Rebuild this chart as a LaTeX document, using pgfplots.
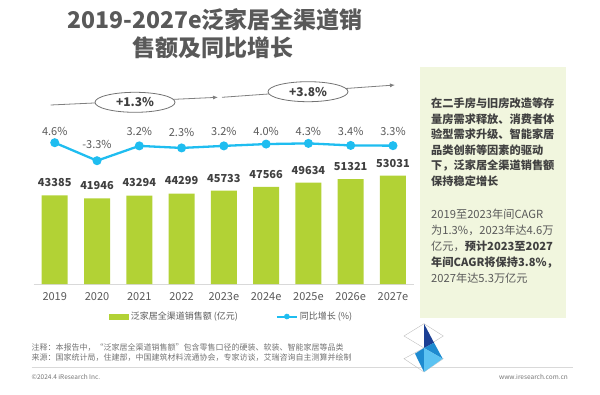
\documentclass[border=0pt]{standalone}
\usepackage{fontspec}
\setmainfont{Noto Sans CJK SC}
\usepackage{pgfplots}
\pgfplotsset{compat=1.18}
\usetikzlibrary{arrows.meta,shapes.geometric}
\definecolor{bargreen}{HTML}{B2D235}
\definecolor{linecyan}{HTML}{1FBDF0}
\definecolor{txt}{HTML}{595959}
\definecolor{dtxt}{HTML}{404040}
\definecolor{boxfill}{HTML}{F1F6DE}
\definecolor{navy}{HTML}{1B3F94}
\definecolor{midblue}{HTML}{1E8BD0}
\definecolor{lightblue}{HTML}{5CC3F2}
\begin{document}
\begin{tikzpicture}
\path[use as bounding box] (0pt,0pt) rectangle (600pt,394pt);
% side box
\fill[boxfill] (420pt,76pt) rectangle (566pt,327pt);
% axis with bars
\begin{axis}[at={(33.6pt,110pt)}, anchor=south west, width=380.5pt, height=214pt, scale only axis,
  xmin=-0.5, xmax=8.5, ymin=0, ymax=104800,
  axis x line*=bottom, axis y line=none,
  x axis line style={draw=black!15, line width=0.8pt},
  xtick={0,...,8}, xticklabels={2019,2020,2021,2022,2023e,2024e,2025e,2026e,2027e},
  major tick length=0pt,
  xticklabel style={anchor=center, yshift=-13pt, font=\fontsize{11}{13}\selectfont, text=txt},
  ytick=\empty,
  /pgf/number format/assume math mode=true,
  /pgf/number format/1000 sep={},
  legend style={draw=none, fill=none, font=\fontsize{9}{11}\selectfont, text=txt,
    at={(0.521,-0.152)}, anchor=center, legend columns=2,
    /tikz/every even column/.append style={column sep=36pt}},
  legend cell align=left,
  clip=false]
\addplot[ybar, bar width=26pt, fill=bargreen, draw=none, forget plot,
  nodes near coords,
  every node near coord/.append style={anchor=center, yshift=12.6pt, font=\bfseries\fontsize{11}{13}\selectfont, text=dtxt}]
  coordinates {(0,43385) (1,41946) (2,43294) (3,44299) (4,45733) (5,47566) (6,49634) (7,51321) (8,53031)};
\addlegendimage{legend image code/.code={\fill[bargreen] (0pt,-2.2pt) rectangle (19pt,2.2pt);}}
\addlegendentry{泛家居全渠道销售额 (亿元)}
\addlegendimage{legend image code/.code={\draw[linecyan, line width=2pt] (0pt,0pt) -- (20pt,0pt); \fill[linecyan] (10pt,0pt) circle (2.6pt);}}
\addlegendentry{同比增长 (\%)}
\end{axis}
% axis with growth line
\begin{axis}[at={(33.6pt,110pt)}, anchor=south west, width=380.5pt, height=214pt, scale only axis,
  xmin=-0.5, xmax=8.5, ymin=-57.4, ymax=36.5, hide axis, clip=false,
  /pgf/number format/assume math mode=true]
\addplot[linecyan, line width=2.3pt, mark=*, mark size=3.3pt, mark options={fill=linecyan, draw=linecyan}]
  coordinates {(0,4.6) (1,-3.3) (2,3.2) (3,2.3) (4,3.2) (5,4.0) (6,4.3) (7,3.4) (8,3.3)};
\addplot[draw=none, point meta=explicit,
  nodes near coords={\pgfmathprintnumber[fixed, fixed zerofill, precision=1]{\pgfplotspointmeta}\%},
  every node near coord/.append style={anchor=center, font=\fontsize{11}{13}\selectfont, text=txt}]
  table[meta=m] {
x y m
0 9.7 4.6
1 4.0 -3.3
2 9.7 3.2
3 9.3 2.3
4 9.7 3.2
5 9.7 4.0
6 9.7 4.3
7 9.7 3.4
8 9.7 3.3
};
\end{axis}
\begin{scope}[x=1pt,y=1pt]
% CAGR arrows
\draw[black!50, line width=0.8pt, -{Latex[length=5pt,width=4pt]}] (50.7,289) -- (218,296.7);
\draw[black!50, line width=0.8pt, -{Latex[length=5pt,width=4pt]}] (222,296.7) -- (395,309);
\node[ellipse, draw=black!55, fill=white, line width=0.8pt, minimum width=80pt, minimum height=20pt, inner sep=0pt,
  font=\bfseries\fontsize{12}{14}\selectfont, text=dtxt] at (135,291.7) {+1.3\%};
\node[ellipse, draw=black!55, fill=white, line width=0.8pt, minimum width=80pt, minimum height=20pt, inner sep=0pt,
  font=\bfseries\fontsize{12}{14}\selectfont, text=dtxt] at (308,302.3) {+3.8\%};
% title
\node[font=\bfseries\fontsize{23}{28}\selectfont, text=txt, anchor=center] at (215,374) {2019-2027e泛家居全渠道销};
\node[font=\bfseries\fontsize{23}{28}\selectfont, text=txt, anchor=center] at (213,346) {售额及同比增长};
% box text
\begin{scope}[every node/.style={anchor=base west, inner sep=0pt, font=\fontsize{11.2}{15}\selectfont}]
\node[text=dtxt, font=\bfseries\fontsize{11.2}{15}\selectfont] at (431,286.4) {在二手房与旧房改造等存};
\node[text=dtxt, font=\bfseries\fontsize{11.2}{15}\selectfont] at (431,270.9) {量房需求释放、消费者体};
\node[text=dtxt, font=\bfseries\fontsize{11.2}{15}\selectfont] at (431,255.4) {验型需求升级、智能家居};
\node[text=dtxt, font=\bfseries\fontsize{11.2}{15}\selectfont] at (431,239.9) {品类创新等因素的驱动};
\node[text=dtxt, font=\bfseries\fontsize{11.2}{15}\selectfont] at (431,224.4) {下，泛家居全渠道销售额};
\node[text=dtxt, font=\bfseries\fontsize{11.2}{15}\selectfont] at (431,208.9) {保持稳定增长};
\node[text=txt] at (431,175.7) {2019至2023年间CAGR};
\node[text=txt] at (431,159.7) {为1.3\%，2023年达4.6万};
\node[text=txt] at (431,143.7) {亿元，\textcolor{dtxt}{\bfseries 预计2023至2027}};
\node[text=dtxt, font=\bfseries\fontsize{11.2}{15}\selectfont] at (431,127.7) {年间CAGR将保持3.8\%，};
\node[text=txt] at (431,111.7) {2027年达5.3万亿元};
\end{scope}
% notes
\begin{scope}[every node/.style={anchor=base west, inner sep=0pt, font=\fontsize{8}{10}\selectfont, text=black!55}]
\node at (31.5,44) {注释：本报告中，“泛家居全渠道销售额”包含零售口径的硬装、软装、智能家居等品类};
\node at (31.5,33.3) {来源：国家统计局，住建部，中国建筑材料流通协会，专家访谈，艾瑞咨询自主测算并绘制};
\end{scope}
\draw[black!15, line width=0.6pt] (31.5,27) -- (573,27);
\node[anchor=base west, inner sep=0pt, font=\fontsize{6.5}{8}\selectfont, text=black!55] at (31.5,15) {©2024.4 iResearch Inc.};
\node[anchor=base east, inner sep=0pt, font=\fontsize{6.5}{8}\selectfont, text=black!55] at (568,15) {www.iresearch.com.cn};
% logo
\draw[black!25, line width=0.4pt] (404,58) -- (424,70.3) -- (443.3,58) -- (424,46) -- cycle;
\draw[black!25, line width=0.4pt] (404,35.3) -- (424,46) -- (443.3,35.3) -- (424,22) -- cycle;
\fill[navy] (424,70.3) -- (424,46) -- (434,51.3) -- cycle;
\fill[midblue] (424,46) -- (415,40.3) -- (424,22) -- cycle;
\fill[midblue] (424,46) -- (434,51.3) -- (442.7,35.3) -- cycle;
\fill[lightblue] (424,46) -- (442.7,35.3) -- (424,22) -- cycle;
\end{scope}
\end{tikzpicture}
\end{document}
